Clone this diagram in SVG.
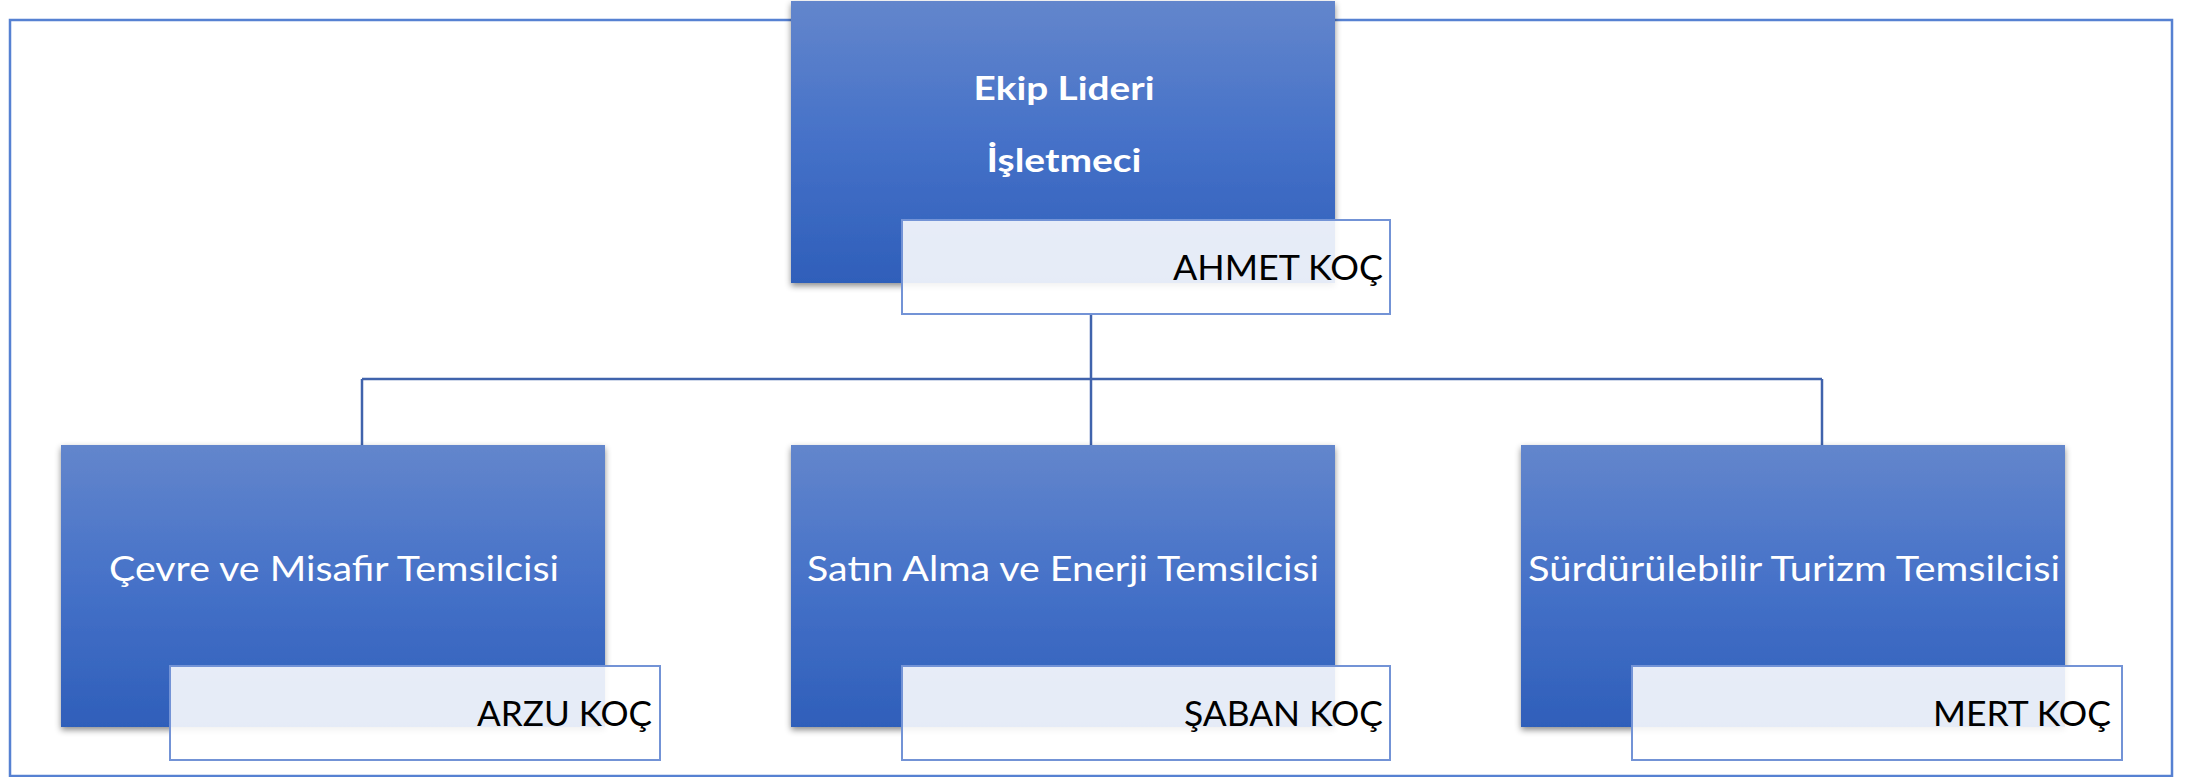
<svg xmlns="http://www.w3.org/2000/svg" width="2210" height="777" viewBox="0 0 2210 777">
<defs>
<linearGradient id="blue" x1="0" y1="0" x2="0" y2="1">
<stop offset="0" stop-color="#6386CC"/>
<stop offset="0.5" stop-color="#4571C8"/>
<stop offset="1" stop-color="#2F5FBA"/>
</linearGradient>
<filter id="shadow" x="-5%" y="-5%" width="110%" height="115%">
<feDropShadow dx="0" dy="3" stdDeviation="3" flood-color="#000" flood-opacity="0.45"/>
</filter>
</defs>
<style>
.box{fill:url(#blue);filter:url(#shadow)}
.name{fill:#FFFFFF;fill-opacity:0.88;stroke:#7393D6;stroke-width:2}
.title{font-family:Lato,"Open Sans",sans-serif;font-size:35px;fill:#FFFFFF;text-anchor:middle}
.lead{font-family:Lato,"Open Sans",sans-serif;font-size:33px;font-weight:bold;fill:#FFFFFF;text-anchor:middle}
.person{font-family:Lato,"Open Sans",sans-serif;font-size:35px;fill:#000000;text-anchor:end}
.conn{stroke:#4063AC;stroke-width:2.5;fill:none}
</style>
<rect x="10" y="20" width="2162" height="756" fill="#FFFFFF" stroke="#5681D2" stroke-width="2.5"/>
<g id="connectors">
<line class="conn" x1="1091" y1="314" x2="1091" y2="445"/>
<line class="conn" x1="362" y1="379" x2="1822" y2="379"/>
<line class="conn" x1="362" y1="379" x2="362" y2="445"/>
<line class="conn" x1="1822" y1="379" x2="1822" y2="445"/>
</g>
<g id="node-leader">
<rect class="box" x="791" y="1" width="544" height="282"/>
<text class="lead" x="1064" y="100" textLength="181" lengthAdjust="spacingAndGlyphs">Ekip Lideri</text>
<text class="lead" x="1064" y="172" textLength="155" lengthAdjust="spacingAndGlyphs">İşletmeci</text>
<rect class="name" x="902" y="220" width="488" height="94"/>
<text class="person" x="1383" y="280" textLength="210" lengthAdjust="spacingAndGlyphs">AHMET KOÇ</text>
</g>
<g id="node-cevre">
<rect class="box" x="61" y="445" width="544" height="282"/>
<text class="title" x="334" y="581" textLength="450" lengthAdjust="spacingAndGlyphs">Çevre ve Misafir Temsilcisi</text>
<rect class="name" x="170" y="666" width="490" height="94"/>
<text class="person" x="652" y="726" textLength="175" lengthAdjust="spacingAndGlyphs">ARZU KOÇ</text>
</g>
<g id="node-satin">
<rect class="box" x="791" y="445" width="544" height="282"/>
<text class="title" x="1063" y="581" textLength="512" lengthAdjust="spacingAndGlyphs">Satın Alma ve Enerji Temsilcisi</text>
<rect class="name" x="902" y="666" width="488" height="94"/>
<text class="person" x="1383" y="726" textLength="199" lengthAdjust="spacingAndGlyphs">ŞABAN KOÇ</text>
</g>
<g id="node-surdurulebilir">
<rect class="box" x="1521" y="445" width="544" height="282"/>
<text class="title" x="1794" y="581" textLength="532" lengthAdjust="spacingAndGlyphs">Sürdürülebilir Turizm Temsilcisi</text>
<rect class="name" x="1632" y="666" width="490" height="94"/>
<text class="person" x="2111" y="726" textLength="178" lengthAdjust="spacingAndGlyphs">MERT KOÇ</text>
</g>
</svg>
